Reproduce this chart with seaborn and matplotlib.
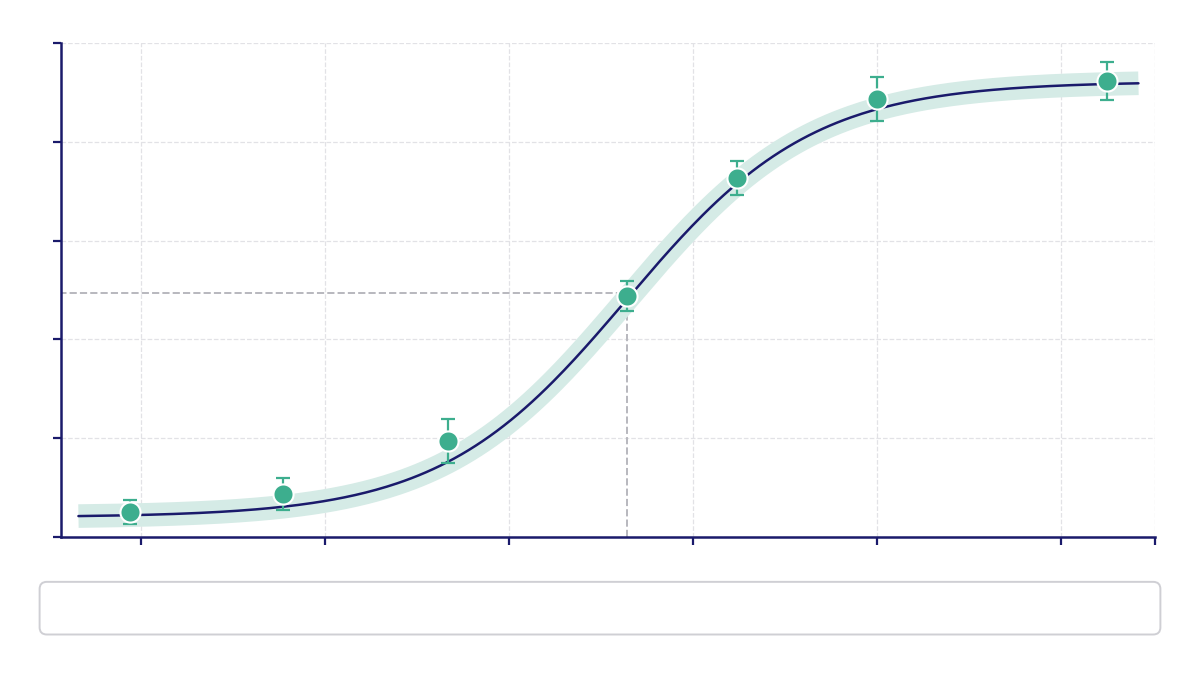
import matplotlib
matplotlib.use("Agg")
import matplotlib.pyplot as plt
from matplotlib.patches import FancyBboxPatch
import numpy as np
import pandas as pd
import seaborn as sns

sns.set_style("white")

# log10 dose vs response (%)
log_dose = [-0.06, 0.77, 1.67, 2.64, 3.24, 4.0, 5.25]
response = [5.1, 8.7, 19.4, 48.8, 72.7, 88.7, 92.3]
resp_err = [2.4, 3.2, 4.4, 3.1, 3.4, 4.5, 3.8]

# 4PL fit parameters
bottom, top, log_ec50, hill = 4.0, 92.2, 2.64, 0.86
ec50_response = 49.4
fit_range = (-0.34, 5.42)

x_ticks = [0, 1, 2, 3, 4, 5, 5.51]
y_ticks = [0, 20, 40, 60, 80, 100]

navy = "#1a1a6b"
teal = "#3dae8e"

df = pd.DataFrame({"log_dose": log_dose, "response": response, "err": resp_err})
xs = np.linspace(fit_range[0], fit_range[1], 300)
fit = pd.DataFrame({"log_dose": xs,
                    "response": bottom + (top - bottom) / (1 + 10 ** ((log_ec50 - xs) * hill))})

fig = plt.figure(figsize=(12, 6.75), dpi=100)
ax = fig.add_axes([0.0508, 0.2044, 0.9117, 0.7319])

sns.lineplot(data=fit, x="log_dose", y="response", ax=ax, color="#d5ebe6",
             linewidth=17, solid_capstyle="butt", zorder=2)
sns.lineplot(data=fit, x="log_dose", y="response", ax=ax, color=navy,
             linewidth=1.8, zorder=3)

ax.errorbar(df.log_dose, df.response, yerr=df.err, fmt="none", ecolor=teal,
            elinewidth=1.6, capsize=5, capthick=1.6, zorder=4)
sns.scatterplot(data=df, x="log_dose", y="response", ax=ax, color=teal, s=210,
                edgecolor="white", linewidth=1.5, zorder=5)

ax.plot([-0.5, log_ec50], [ec50_response, ec50_response], ls="--", color="#b8b8be", lw=1.4, zorder=1)
ax.plot([log_ec50, log_ec50], [0, ec50_response], ls="--", color="#b8b8be", lw=1.4, zorder=1)

ax.set_xlim(-0.435, 5.51)
ax.set_ylim(0, 100)
ax.set_xticks(x_ticks)
ax.set_yticks(y_ticks)
ax.set_xticklabels([])
ax.set_yticklabels([])
ax.set_xlabel("")
ax.set_ylabel("")
ax.grid(True, ls="--", color="#e2e2e6", lw=0.9)
ax.set_axisbelow(True)
for s in ["top", "right"]:
    ax.spines[s].set_visible(False)
for s in ["left", "bottom"]:
    ax.spines[s].set_color(navy)
    ax.spines[s].set_linewidth(1.8)
ax.tick_params(axis="both", direction="out", length=6, width=1.6, color=navy,
               bottom=True, left=True)

box = FancyBboxPatch((0.033, 0.06), 0.934, 0.078, transform=fig.transFigure,
                     boxstyle="round,pad=0,rounding_size=0.006", fc="white",
                     ec="#cfcfd4", lw=1.4, mutation_aspect=1.78)
fig.patches.append(box)

fig.savefig("out.png", dpi=100)
